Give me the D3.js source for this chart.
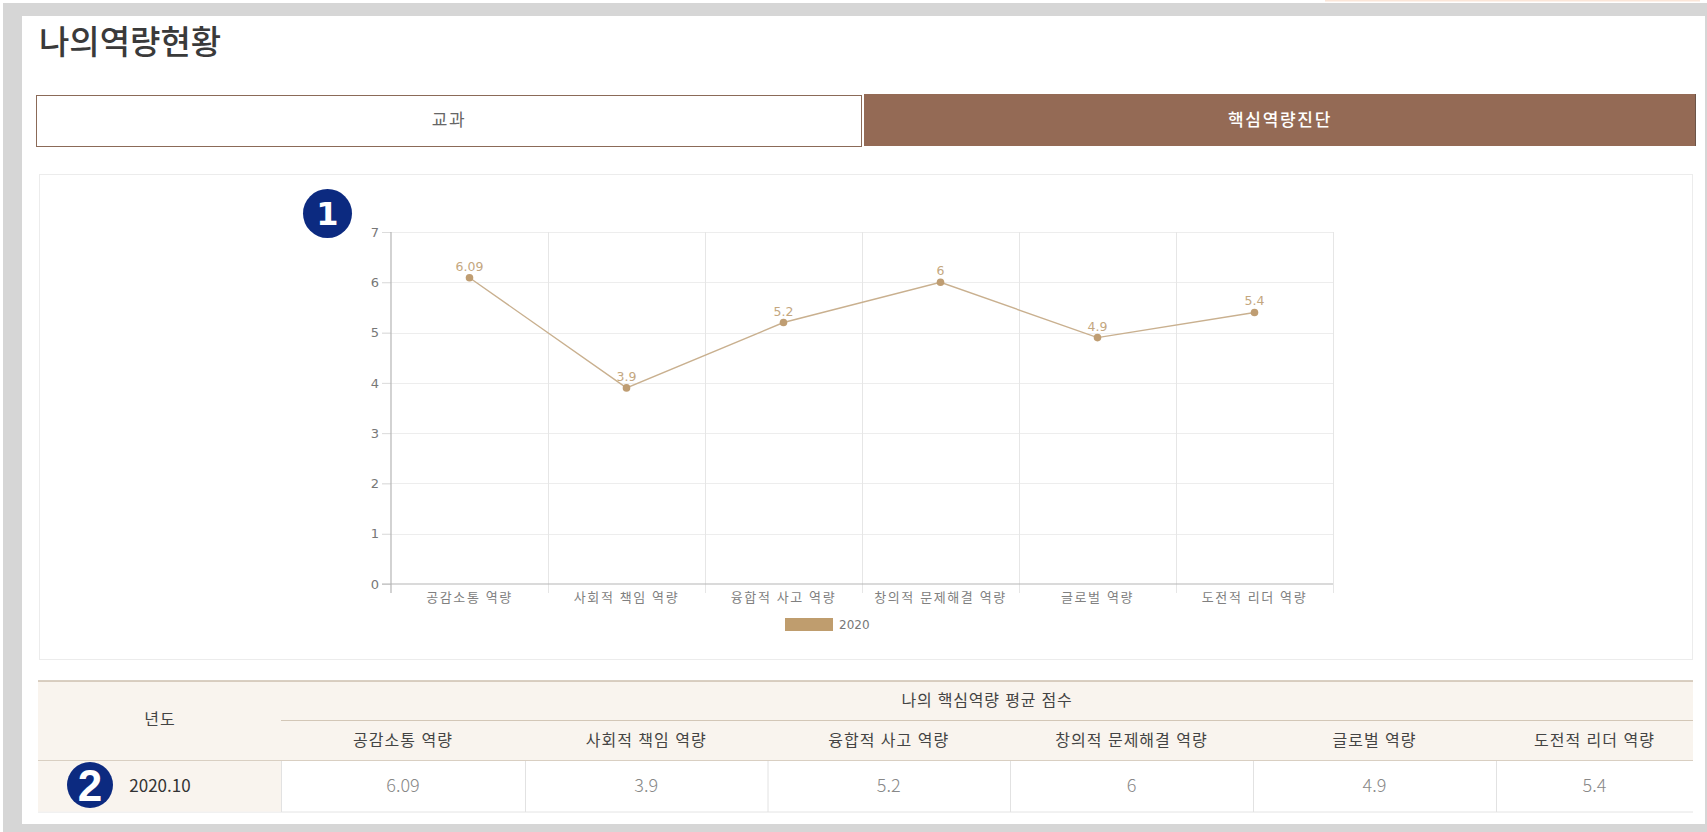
<!DOCTYPE html>
<html lang="ko">
<head>
<meta charset="utf-8">
<script src="https://cdn.jsdelivr.net/npm/d3@7"></script>
<style>
html,body{margin:0;padding:0;background:#fff;overflow:hidden}
svg{display:block}
text{font-family:"Noto Sans CJK KR","Noto Sans",sans-serif}
.num{font-family:"DejaVu Sans",sans-serif}
</style>
</head>
<body>
<svg id="c" width="1707" height="832"></svg>
<script>
const categories = ["공감소통 역량","사회적 책임 역량","융합적 사고 역량","창의적 문제해결 역량","글로벌 역량","도전적 리더 역량"];
const values2020 = [6.09,3.9,5.2,6,4.9,5.4];
const yearLabels = ["2020"];
const rowLabel = "2020.10";
const yTicks = [0,1,2,3,4,5,6,7];
const pageTitle = "나의역량현황";
const tabLabels = ["교과","핵심역량진단"];
const tableGroup = "나의 핵심역량 평균 점수";
const tableYear = "년도";

const svg = d3.select("#c");
const rect=(x,y,w,h,fill,stroke)=>svg.append("rect").attr("x",x).attr("y",y).attr("width",w).attr("height",h).attr("fill",fill).attr("stroke",stroke||"none");
const line=(x1,y1,x2,y2,c,w=1)=>svg.append("line").attr("x1",x1).attr("y1",y1).attr("x2",x2).attr("y2",y2).attr("stroke",c).attr("stroke-width",w);
const text=(x,y,s,size,fill,weight=400,anchor="middle",ls=0)=>svg.append("text").attr("x",x).attr("y",y).attr("text-anchor",anchor).attr("font-size",size).attr("font-weight",weight).attr("letter-spacing",ls).attr("fill",fill).text(s);

// page frame
rect(3,3,1704,829,"#d6d6d6");
rect(22,16,1683,808,"#ffffff");
rect(1325,0,375,1.5,"#fbe6d8");

// heading and tabs
text(39,54,pageTitle,33,"#3a3a3a",500,"start",0);
rect(36.5,95.5,825,51,"#ffffff","#8b6a58");
rect(864,94,831,52,"#946a55");
line(1695.5,94,1695.5,146,"#6b5448");
text(449,126,tabLabels[0],17,"#666666",400,"middle",1.7);
text(1280,126,tabLabels[1],17,"#ffffff",500,"middle",1.7);

// chart panel
rect(39.5,174.5,1653,485,"#ffffff","#ececec");

const x = d3.scaleBand().domain(categories).range([391,1333]);
const y = d3.scaleLinear().domain([0,7]).range([584,232]);

const grid = svg.append("g");
grid.selectAll("line.h").data(yTicks.filter(d=>d>0)).join("line")
  .attr("x1",x.range()[0]-9).attr("x2",x.range()[1]).attr("y1",d=>Math.round(y(d))+.5).attr("y2",d=>Math.round(y(d))+.5)
  .attr("stroke","#ededed");
grid.selectAll("line.v").data(categories.slice(1).concat([null])).join("line")
  .attr("x1",d=>(d?x(d):x.range()[1])+.5).attr("x2",d=>(d?x(d):x.range()[1])+.5)
  .attr("y1",y(7)).attr("y2",y(0)+9).attr("stroke","#e6e6e6");

// axes
const yAxis = d3.axisLeft(y).tickValues(yTicks).tickFormat(d3.format("d")).tickSize(9).tickPadding(3);
const yg = svg.append("g").attr("transform",`translate(${x.range()[0]},0)`).call(yAxis);
yg.select(".domain").remove();
yg.selectAll(".tick line").attr("stroke","#dcdcdc");
yg.selectAll(".tick text").attr("class","num").attr("font-size",13).attr("fill","#777");
line(x.range()[0],y(7),x.range()[0],y(0)+9,"#b5b5b5",1.2);
line(x.range()[0]-9,y(0),x.range()[1],y(0),"#b5b5b5",1.2);

const xAxis = d3.axisBottom(x).tickSize(0).tickPadding(9);
const xg = svg.append("g").attr("transform",`translate(0,${y(0)})`).call(xAxis);
xg.select(".domain").remove();
xg.selectAll(".tick text").attr("font-size",13).attr("fill","#808080").attr("letter-spacing",1.6).style("font-family",'"Noto Sans CJK KR"');

// series
const cx = d=>x(d.c)+x.bandwidth()/2;
const pts = categories.map((c,i)=>({c,v:values2020[i]}));
svg.append("path").datum(pts)
  .attr("d",d3.line().x(cx).y(d=>y(d.v)))
  .attr("fill","none").attr("stroke","#c9b08f").attr("stroke-width",1.4);
svg.selectAll("circle.p").data(pts).join("circle").attr("class","p")
  .attr("cx",cx).attr("cy",d=>y(d.v)).attr("r",3.8).attr("fill","#bf9d72");
svg.selectAll("text.dl").data(pts).join("text").attr("class","dl num")
  .attr("x",cx).attr("y",d=>y(d.v)-7).attr("text-anchor","middle")
  .attr("font-size",12.5).attr("fill","#c4a77f").style("font-family",'"DejaVu Sans"').text(d=>d.v);

// legend
rect(785,618,48,13,"#bf9d6e");
text(839,629,yearLabels[0],12,"#777",400,"start").style("font-family",'"DejaVu Sans"');

// badges
const badge=(cx0,cy0,r,s,size,font)=>{
  svg.append("circle").attr("cx",cx0).attr("cy",cy0).attr("r",r).attr("fill","#0c2a80");
  text(cx0,cy0+size*.36,s,size,"#ffffff",700).style("font-family",font);
};
badge(327.5,213.5,24.5,"1",32,'"DejaVu Sans"');

// table
const colEdges = [38,281,525,767.5,1010,1253,1496,1693];
rect(38,681,1655,79,"#f9f4ee");
line(38,681,1693,681,"#cdbfae",1.5);
line(281,720.5,1693,720.5,"#d3c7b7",1.2);
line(38,760.5,1693,760.5,"#d9cfc2",1.2);
line(38,812,1693,812,"#e4e4e4",1);
rect(38,761.1,243,50.5,"#f9f4ee");
d3.range(1,7).forEach(i=>line(colEdges[i]+.5,761,colEdges[i]+.5,812,"#e2e2e2"));
text(160,725,tableYear,16,"#444",400,"middle",1);
text(987,706,tableGroup,16,"#444",400,"middle",0.8);
categories.forEach((c,i)=>{
  const m=(colEdges[i+1]+colEdges[i+2])/2;
  text(m,746,c,16,"#444",400,"middle",1);
  text(m,792,values2020[i],18,"#888",300);
});
text(160,792,rowLabel,17,"#333",400);
badge(90,785,23,"2",44,'"Liberation Sans"');
</script>
</body>
</html>
